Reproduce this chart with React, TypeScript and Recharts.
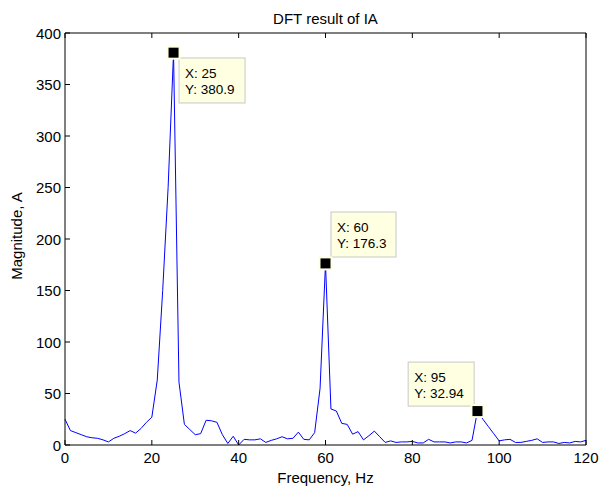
import React from 'react';
import { LineChart, Line, XAxis, YAxis, ReferenceDot } from 'recharts';

const frequencies = [
  0, 1.25, 2.5, 3.75, 5, 6.25, 7.5, 8.75, 10, 11.25, 12.5, 13.75, 15, 16.25, 17.5, 18.75,
  20, 21.25, 22.5, 23.75, 25, 26.25, 27.5, 28.75, 30, 31.25, 32.5, 33.75, 35, 36.25, 37.5, 38.75,
  40, 41.25, 42.5, 43.75, 45, 46.25, 47.5, 48.75, 50, 51.25, 52.5, 53.75, 55, 56.25, 57.5, 58.75,
  60, 61.25, 62.5, 63.75, 65, 66.25, 67.5, 68.75, 70, 71.25, 72.5, 73.75, 75, 76.25, 77.5, 78.75,
  80, 81.25, 82.5, 83.75, 85, 86.25, 87.5, 88.75, 90, 91.25, 92.5, 93.75, 95, 96.25, 97.5, 98.75,
  100, 101.25, 102.5, 103.75, 105, 106.25, 107.5, 108.75, 110, 111.25, 112.5, 113.75, 115, 116.25, 117.5, 118.75,
  120,
];

const magnitudes = [
  25, 14, 12, 10, 8, 7, 6.5, 5, 3, 6.5, 8.5, 11, 14, 11.5, 16, 22,
  27, 63, 150, 250, 380.9, 61, 20, 15, 10, 11, 24, 23.5, 22, 10, 1.5, 8.5,
  0, 5.5, 5, 5, 6, 2.5, 4.5, 6, 8, 6, 6.5, 12.5, 5.5, 5, 12, 55,
  176.3, 35, 33, 21, 20, 10.5, 13, 5, 9, 13.5, 8, 2.5, 4, 2.5, 3, 3,
  3.5, 2, 2, 5.5, 3, 3, 3, 2, 3, 3, 2, 4.5, 32.94, 25, 18, 11,
  4, 5, 5.5, 2.5, 2.5, 3.5, 4.5, 6, 2.5, 3, 3, 1.5, 2.5, 2, 3.5, 3,
  4.5,
];

const xTicks = [0, 20, 40, 60, 80, 100, 120];
const yTicks = [0, 50, 100, 150, 200, 250, 300, 350, 400];

const tipX = [25, 60, 95];
const tipY = [380.9, 176.3, 32.94];
const tipLabelX = ['X: 25', 'X: 60', 'X: 95'];
const tipLabelY = ['Y: 380.9', 'Y: 176.3', 'Y: 32.94'];

// box placement relative to the marker (style only)
const tipBoxStyle = [
  { dx: 5.5, dy: 5.3, w: 66, h: 45 },
  { dx: 5.5, dy: -51.4, w: 65, h: 45 },
  { dx: -69.3, dy: -49, w: 66, h: 44 },
];

const data = frequencies.map((f, i) => ({ f, m: magnitudes[i] }));

const FONT = '"Liberation Sans", Arial, Helvetica, sans-serif';

const BottomTick = (props: any) => {
  const { x, y, payload } = props;
  return (
    <g>
      <line x1={x} y1={y} x2={x} y2={y - 5} stroke="#000" strokeWidth={1} />
      <text x={x} y={y + 18} textAnchor="middle" fontFamily={FONT} fontSize={15} fill="#000">
        {payload.value}
      </text>
    </g>
  );
};

const TopTick = (props: any) => {
  const { x, y } = props;
  return <line x1={x} y1={y} x2={x} y2={y + 5} stroke="#000" strokeWidth={1} />;
};

const LeftTick = (props: any) => {
  const { x, y, payload } = props;
  return (
    <g>
      <line x1={x} y1={y} x2={x + 5} y2={y} stroke="#000" strokeWidth={1} />
      <text x={x - 4} y={y + 5.5} textAnchor="end" fontFamily={FONT} fontSize={15} fill="#000">
        {payload.value}
      </text>
    </g>
  );
};

const RightTick = (props: any) => {
  const { x, y } = props;
  return <line x1={x} y1={y} x2={x - 5} y2={y} stroke="#000" strokeWidth={1} />;
};

const makeTip = (i: number) => (props: any) => {
  const { cx, cy } = props;
  const s = tipBoxStyle[i];
  const bx = cx + s.dx;
  const by = cy + s.dy;
  return (
    <g>
      <rect x={bx} y={by} width={s.w} height={s.h} fill="#FFFFE1" stroke="#C8C8C8" strokeWidth={1} />
      <text x={bx + 6} y={by + 20} fontFamily={FONT} fontSize={13.5} fill="#000">
        {tipLabelX[i]}
      </text>
      <text x={bx + 6} y={by + 36} fontFamily={FONT} fontSize={13.5} fill="#000">
        {tipLabelY[i]}
      </text>
      <rect x={cx - 7} y={cy - 7} width={14} height={14} fill="#FFFFE1" />
      <rect x={cx - 5} y={cy - 5} width={10} height={10} fill="#000" />
    </g>
  );
};

export default function App() {
  return (
    <div style={{ position: 'absolute', left: 0, top: 0, width: 601, height: 491, background: '#fff' }}>
      <LineChart width={601} height={491} data={data} margin={{ top: 0, right: 0, bottom: 0, left: 0 }}>
        <XAxis
          dataKey="f"
          type="number"
          domain={[0, 120]}
          ticks={xTicks}
          height={46}
          tickSize={0}
          tickMargin={0}
          axisLine={{ stroke: '#000' }}
          tick={<BottomTick />}
          interval={0}
        />
        <XAxis
          xAxisId="top"
          dataKey="f"
          type="number"
          orientation="top"
          domain={[0, 120]}
          ticks={xTicks}
          height={33}
          tickSize={0}
          tickMargin={0}
          axisLine={{ stroke: '#000' }}
          tick={<TopTick />}
          interval={0}
        />
        <YAxis
          type="number"
          domain={[0, 400]}
          ticks={yTicks}
          width={65}
          tickSize={0}
          tickMargin={0}
          axisLine={{ stroke: '#000' }}
          tick={<LeftTick />}
          interval={0}
        />
        <YAxis
          yAxisId="right"
          orientation="right"
          type="number"
          domain={[0, 400]}
          ticks={yTicks}
          width={15}
          tickSize={0}
          tickMargin={0}
          axisLine={{ stroke: '#000' }}
          tick={<RightTick />}
          interval={0}
        />
        <Line
          type="linear"
          dataKey="m"
          stroke="#0000FF"
          strokeWidth={1}
          dot={false}
          activeDot={false}
          isAnimationActive={false}
        />
        {tipX.map((x, i) => (
          <ReferenceDot
            key={i}
            x={x}
            y={tipY[i]}
            r={5}
            ifOverflow="visible"
            shape={makeTip(i)}
          />
        ))}
      </LineChart>
      <svg
        width={601}
        height={491}
        style={{ position: 'absolute', left: 0, top: 0, pointerEvents: 'none' }}
      >
        <text x={325.5} y={24} textAnchor="middle" fontFamily={FONT} fontSize={15} fill="#000">
          DFT result of IA
        </text>
        <text x={325.5} y={483} textAnchor="middle" fontFamily={FONT} fontSize={15} fill="#000">
          Frequency, Hz
        </text>
        <text
          x={0}
          y={0}
          transform="translate(22,236) rotate(-90)"
          textAnchor="middle"
          fontFamily={FONT}
          fontSize={15}
          fill="#000"
        >
          Magnitude, A
        </text>
      </svg>
    </div>
  );
}
